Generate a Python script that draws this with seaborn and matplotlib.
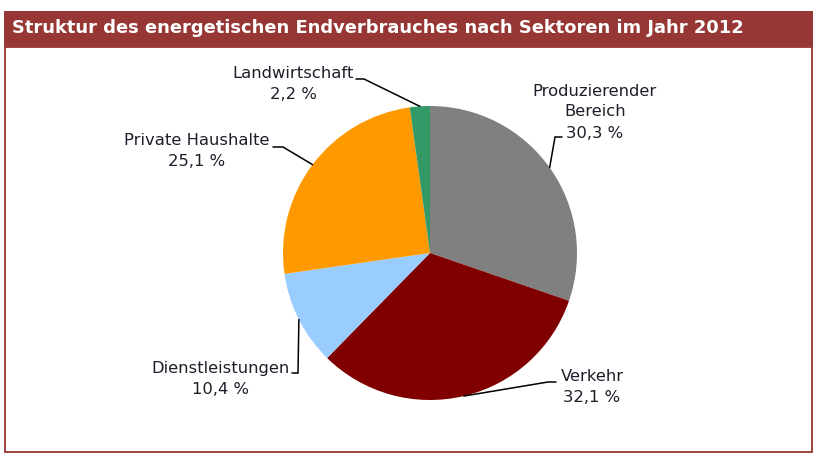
import numpy as np
import matplotlib
matplotlib.use("Agg")
import matplotlib.pyplot as plt
from matplotlib.patches import Rectangle
import seaborn as sns

# Daten
sektoren = ["Produzierender\nBereich", "Verkehr", "Dienstleistungen", "Private Haushalte", "Landwirtschaft"]
anteile = [30.3, 32.1, 10.4, 25.1, 2.2]
farben = ["#808080", "#800000", "#99CCFF", "#FF9900", "#339966"]
titel = "Struktur des energetischen Endverbrauches nach Sektoren im Jahr 2012"

sns.set_theme(style="white")
plt.rcParams['font.family'] = ['DejaVu Sans']

W, H = 823, 474
fig = plt.figure(figsize=(W / 100, H / 100), dpi=100)

# Rahmen und Titelleiste
rot = "#963735"
fig.patches.append(Rectangle((5 / W, 1 - 452 / H), 807 / W, 440 / H, transform=fig.transFigure,
                             facecolor="white", edgecolor=rot, linewidth=1.3, zorder=-5))
fig.patches.append(Rectangle((5 / W, 1 - 47 / H), 807 / W, 35 / H, transform=fig.transFigure,
                             facecolor=rot, edgecolor=rot, linewidth=1.3, zorder=-4))
fig.text(12 / W, 1 - 28 / H, titel, color="white", fontsize=12.9, fontweight="bold",
         ha="left", va="center")

# Kreis
cx, cy, r = 430, 253, 147
ax = fig.add_axes([(cx - r) / W, 1 - (cy + r) / H, 2 * r / W, 2 * r / H])
ax.set_zorder(2)
ax.patch.set_visible(False)
wedges, _ = ax.pie(anteile, colors=sns.color_palette(farben), startangle=90, counterclock=False,
                   radius=1, wedgeprops=dict(linewidth=0))
ax.set_xlim(-1, 1)
ax.set_ylim(-1, 1)
ax.set_aspect("equal")
ax.axis("off")


def px(x, y):
    return (x - cx) / r, (cy - y) / r


# Beschriftungen: Textmitte, Knickpunkt, Linienende am Text (Pixel)
text_pos = [(595, 112), (592, 387), (220, 379), (197, 151), (293, 84)]
knick = [(555, 137), (548, 382), (298, 373), (283, 147), (364, 79)]
ende = [(562, 137), (556, 382), (292, 373), (273, 147), (356, 79)]

textfarbe = "#1e1e2a"
for w, name, val, tp, kp, ep in zip(wedges, sektoren, anteile, text_pos, knick, ende):
    mid = np.deg2rad((w.theta1 + w.theta2) / 2)
    rand = (np.cos(mid), np.sin(mid))
    label = name + "\n" + f"{val:.1f}".replace(".", ",") + " %"
    tx, ty = px(*tp)
    ax.text(tx, ty, label, ha="center", va="center", fontsize=11.8, color=textfarbe,
            linespacing=1.5, clip_on=False)
    k = px(*kp)
    e = px(*ep)
    ax.plot([rand[0], k[0], e[0]], [rand[1], k[1], e[1]], color="black", linewidth=1.1,
            clip_on=False, solid_joinstyle="miter")

fig.savefig("out.png", dpi=100)
